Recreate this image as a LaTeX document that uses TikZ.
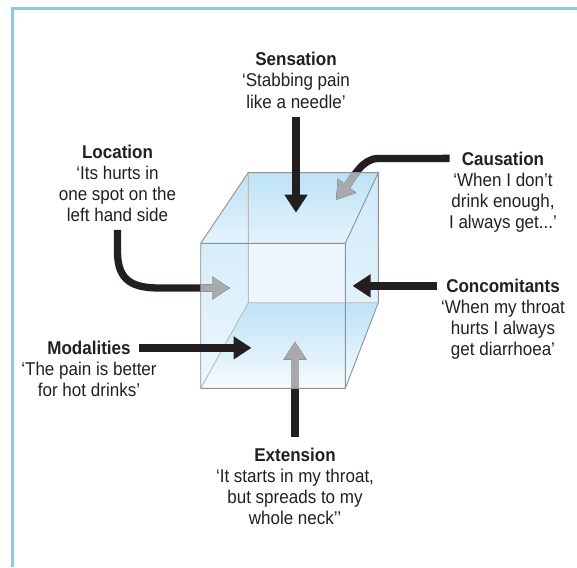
\documentclass[tikz,border=0pt]{standalone}
\usepackage{fontspec}
\setmainfont[FakeStretch=0.92]{Liberation Sans}
\usetikzlibrary{arrows.meta,positioning}

\definecolor{ink}{HTML}{231F20}
\definecolor{behind}{HTML}{A7A9AC}
\definecolor{framecol}{HTML}{7DCFF2}
\definecolor{glass}{HTML}{BDE2F6}
\definecolor{glasspale}{HTML}{EEF7FD}
\definecolor{edgedark}{HTML}{8F9193}
\definecolor{edgelight}{HTML}{B8BABC}

\tikzset{
  title/.style={font=\fontsize{18.5}{21}\selectfont\bfseries, text=ink, inner sep=0pt, anchor=base},
  quote/.style={font=\fontsize{18.5}{21}\selectfont, text=ink, inner sep=0pt, anchor=base, align=center},
  pointer/.style={draw=ink, line width=7.3pt, -{Triangle[width=22pt,length=18pt]}},
}

\begin{document}
\begin{tikzpicture}[x=1pt,y=-1pt]
  \useasboundingbox (0,0) rectangle (577,567);
  \draw[framecol, line width=2.5pt] (12.3,567) -- (12.3,8.7) -- (577,8.7);

  % cube corners (f = front, b = back)
  \coordinate (ftl) at (200.7,243.3);
  \coordinate (ftr) at (345.3,243.3);
  \coordinate (fbr) at (345.3,388.3);
  \coordinate (fbl) at (200.7,388.3);
  \coordinate (btl) at (248.3,172.6);
  \coordinate (btr) at (378.3,172.6);
  \coordinate (bbr) at (378.3,302.7);
  \coordinate (bbl) at (248.3,302.7);

  % glass
  \fill[glasspale] (ftl) -- (btl) -- (btr) -- (bbr) -- (fbr) -- (fbl) -- cycle;
  \shade[top color=glass, bottom color=glasspale, opacity=0.7] (ftl) -- (btl) -- (bbl) -- (fbl) -- cycle;
  \shade[top color=glass, bottom color=glasspale, opacity=0.6] (ftr) -- (btr) -- (bbr) -- (fbr) -- cycle;
  \shade[top color=glass, bottom color=glasspale!80!glass] (ftl) -- (btl) -- (btr) -- (ftr) -- cycle;
  \shade[top color=glass, bottom color=glasspale!50!white] (bbl) -- (bbr) -- (fbr) -- (fbl) -- cycle;

  % texts (a quote's base is its last line)
  \node[title] (sens) at (296,66) {Sensation};
  \node[quote] (sens-q) at ([yshift=-42pt]sens.base) {‘Stabbing pain\\like a needle’};
  \node[title] (loc) at (117.5,158.5) {Location};
  \node[quote] (loc-q) at ([yshift=-63pt]loc.base) {‘Its hurts in\\one spot on the\\left hand side};
  \node[title] (caus) at (503,165) {Causation};
  \node[quote] (caus-q) at ([yshift=-63pt]caus.base) {‘When I don’t\\drink enough,\\I always get...’};
  \node[title] (conc) at (503,292.5) {Concomitants};
  \node[quote] (conc-q) at ([yshift=-63pt]conc.base) {‘When my throat\\hurts I always\\get diarrhoea’};
  \node[title] (mod) at (89,354.5) {Modalities};
  \node[quote] (mod-q) at ([yshift=-42pt]mod.base) {‘The pain is better\\for hot drinks’};
  \node[title] (ext) at (295,461.5) {Extension};
  \node[quote] (ext-q) at ([yshift=-63pt]ext.base) {‘It starts in my throat,\\but spreads to my\\whole neck’’};

  % arrow tips
  \coordinate (sens-tip) at (296,212.7);
  \coordinate (loc-bend) at (160,288);
  \coordinate (loc-tip) at (230,288);
  \coordinate (caus-bend) at (378,158.5);
  \coordinate (caus-tip) at (336,200);
  \coordinate (conc-tip) at (352.5,287);
  \coordinate (mod-tip) at (251.5,349);
  \coordinate (ext-tip) at (295,341.7);

  % arrows passing behind the glass
  \draw[pointer] ([yshift=-8pt]loc-q.south) -- ++(0,22) .. controls +(0,30) and +(-26,0) .. (loc-bend) -- (loc-tip);
  \draw[pointer] ([xshift=-12pt]caus.west) -- (caus-bend) .. controls +(-16,0) and (353,178) .. (caus-tip);
  \draw[pointer] ([yshift=11pt]ext.north) -- (ext.north |- ext-tip);
  \begin{scope}
    \clip (ftl) -- (btl) -- (btr) -- (bbr) -- (fbr) -- (fbl) -- cycle;
    \draw[pointer, draw=behind] ([yshift=-8pt]loc-q.south) -- ++(0,22) .. controls +(0,30) and +(-26,0) .. (loc-bend) -- (loc-tip);
    \draw[pointer, draw=behind] ([xshift=-12pt]caus.west) -- (caus-bend) .. controls +(-16,0) and (353,178) .. (caus-tip);
    \draw[pointer, draw=behind] ([yshift=11pt]ext.north) -- (ext.north |- ext-tip);
  \end{scope}

  % edges
  \draw[edgelight, line width=0.9pt] (btl) -- (bbl) -- (bbr) (bbl) -- (fbl);
  \draw[edgedark, line width=0.9pt] (ftl) rectangle (fbr) (ftl) -- (btl) -- (btr) -- (bbr) -- (fbr) (btr) -- (ftr);

  % arrows in front of the glass
  \draw[pointer] ([yshift=-8.7pt]sens-q.south) -- (sens-q.south |- sens-tip);
  \draw[pointer] ([xshift=-9pt]conc.west) -- (conc.west -| conc-tip);
  \draw[pointer] ([xshift=8pt]mod.east) -- (mod.east -| mod-tip);
\end{tikzpicture}
\end{document}
